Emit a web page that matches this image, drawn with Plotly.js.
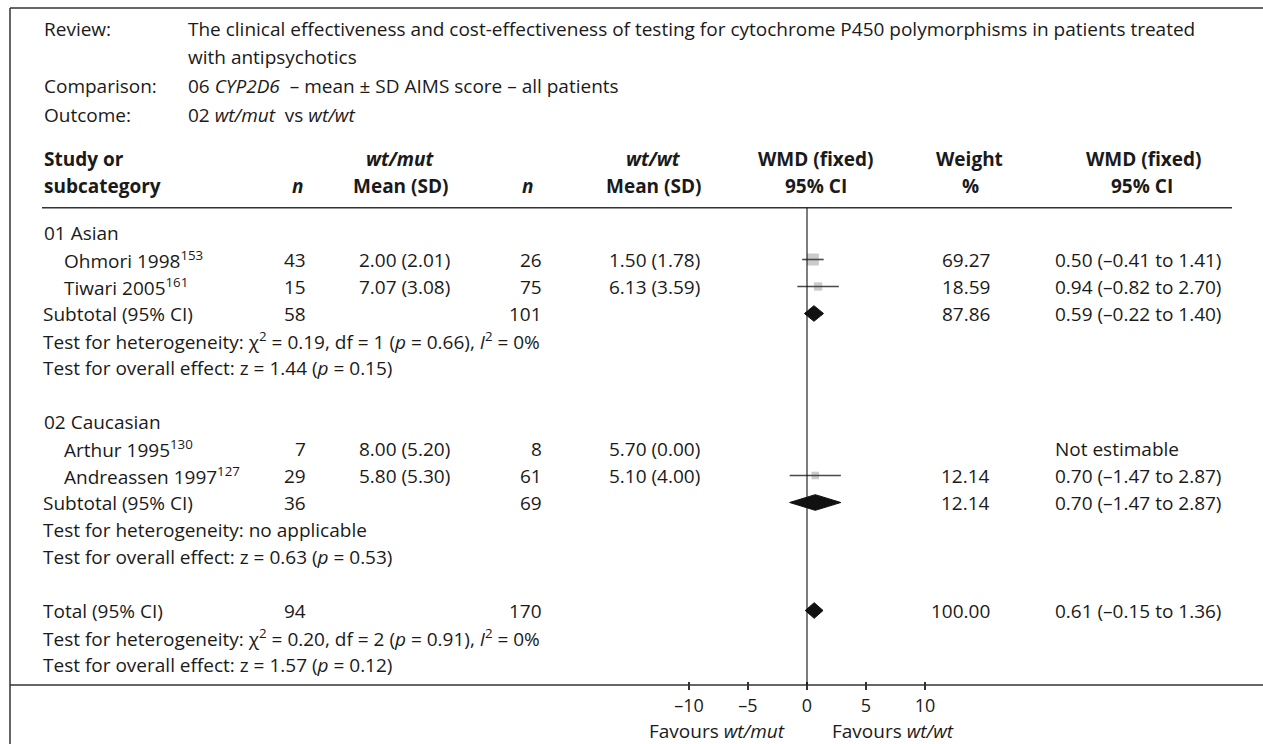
<!DOCTYPE html>
<html>
<head>
<meta charset="utf-8">
<script src="https://cdn.plot.ly/plotly-3.0.1.min.js"></script>
<style>html,body{margin:0;padding:0;background:#fff;}#chart{width:1263px;height:744px;}</style>
</head>
<body>
<div id="chart"></div>
<script>
// ---------------- DATA ----------------
const reviewLines = ['The clinical effectiveness and cost-effectiveness of testing for cytochrome P450 polymorphisms in patients treated', 'with antipsychotics'];
const comparisonText = '06 <i>CYP2D6</i>  – mean ± SD AIMS score – all patients';
const outcomeText = '02 <i>wt/mut</i>  vs <i>wt/wt</i>';

const groups = ['01 Asian', '02 Caucasian'];
const studies = ['Ohmori 1998', 'Tiwari 2005', 'Arthur 1995', 'Andreassen 1997'];
const studyRefs = ['153', '161', '130', '127'];
const studyGroup = [0, 0, 1, 1];
const nMut = [43, 15, 7, 29];
const meanMut = [2.00, 7.07, 8.00, 5.80];
const sdMut = [2.01, 3.08, 5.20, 5.30];
const nWt = [26, 75, 8, 61];
const meanWt = [1.50, 6.13, 5.70, 5.10];
const sdWt = [1.78, 3.59, 0.00, 4.00];
const wmd = [0.50, 0.94, null, 0.70];
const ciLo = [-0.41, -0.82, null, -1.47];
const ciHi = [1.41, 2.70, null, 2.87];
const weight = [69.27, 18.59, null, 12.14];

const subNMut = [58, 36];
const subNWt = [101, 69];
const subWmd = [0.59, 0.70];
const subLo = [-0.22, -1.47];
const subHi = [1.40, 2.87];
const subWeight = [87.86, 12.14];
const subHetChi = [0.19, null];
const subHetDf = [1, null];
const subHetP = [0.66, null];
const subHetI2 = [0, null];
const subZ = [1.44, 0.63];
const subZp = [0.15, 0.53];

const totNMut = 94;
const totNWt = 170;
const totWmd = 0.61;
const totLo = -0.15;
const totHi = 1.36;
const totWeight = 100.00;
const totHetChi = 0.20;
const totHetDf = 2;
const totHetP = 0.91;
const totHetI2 = 0;
const totZ = 1.57;
const totZp = 0.12;

const tickVals = [-10, -5, 0, 5, 10];
const tickText = ['–10', '–5', '0', '5', '10'];
const favLeft = 'Favours <i>wt/mut</i>';
const favRight = 'Favours <i>wt/wt</i>';

// ---------------- LAYOUT HELPERS ----------------
const W = 1263, H = 744;
const px = x => x / W;
const py = y => 1 - y / H;
const FONT = '"Open Sans", Lato, "DejaVu Sans", sans-serif';
const TXT = '#1a1a1a';
const FS = 19;
const ROW0 = 232.5, ROWH = 27;
const yTopPx = 207.7, yBotPx = 681;

const f2 = v => (v < 0 ? '–' : '') + Math.abs(v).toFixed(2);
const ciStr = (e, l, h) => `${f2(e)} (${f2(l)} to ${f2(h)})`;
const hetStr = (chi, df, p, i2) => chi === null ? 'Test for heterogeneity: no applicable'
  : `Test for heterogeneity: χ<sup>2</sup> = ${chi.toFixed(2)}, df = ${df} (<i>p</i> = ${p.toFixed(2)}), <i>I</i><sup>2</sup> = ${i2}%`;
const zStr = (z, p) => `Test for overall effect: z = ${z.toFixed(2)} (<i>p</i> = ${p.toFixed(2)})`;

const annotations = [];
function A(text, xPx, yVal, anchor, opts) {
  opts = opts || {};
  annotations.push({
    text: text, xref: 'paper', x: px(xPx), yref: opts.yref || 'y', y: yVal,
    xanchor: anchor, yanchor: 'middle', showarrow: false,
    font: Object.assign({family: FONT, size: opts.size || FS, color: TXT}, opts.font || {})
  });
}
function AP(text, xPx, yPx, anchor, opts) {
  opts = opts || {};
  opts.yref = 'paper';
  A(text, xPx, py(yPx), anchor, opts);
}
const B = {font: {weight: 'bold'}};
const BI = {font: {weight: 'bold', style: 'italic'}};

// header block
AP('Review:', 42, 28.5, 'left');
AP(reviewLines[0], 186, 28.5, 'left');
AP(reviewLines[1], 186, 57.5, 'left');
AP('Comparison:', 42, 86.5, 'left');
AP(comparisonText, 186, 86.5, 'left');
AP('Outcome:', 42, 115, 'left');
AP(outcomeText, 186, 115, 'left');

// column headers
const h1 = 159.5, h2 = 186;
AP('Study or', 42, h1, 'left', {font: B.font});
AP('subcategory', 42, h2, 'left', {font: B.font});
AP('n', 297, h2, 'center', {font: BI.font});
AP('wt/mut', 400, h1, 'center', {font: BI.font});
AP('Mean (SD)', 400, h2, 'center', {font: B.font});
AP('n', 527, h2, 'center', {font: BI.font});
AP('wt/wt', 653, h1, 'center', {font: BI.font});
AP('Mean (SD)', 653, h2, 'center', {font: B.font});
AP('WMD (fixed)', 816, h1, 'center', {font: B.font});
AP('95% CI', 816, h2, 'center', {font: B.font});
AP('Weight', 969, h1, 'center', {font: B.font});
AP('%', 970, h2, 'center', {font: B.font});
AP('WMD (fixed)', 1144, h1, 'center', {font: B.font});
AP('95% CI', 1142, h2, 'center', {font: B.font});

// ---------------- ROWS ----------------
const sqX = [], sqY = [], sqS = [];
const lnX = [], lnY = [];
const dmX = [], dmY = [];
const DH = 0.29;
function diamond(e, l, h, r) {
  dmX.push(l, e, h, e, l, null);
  dmY.push(r, r - DH, r, r + DH, r, null);
}
let r = 0;
groups.forEach((g, gi) => {
  A(g, 42, r, 'left'); r++;
  studies.forEach((s, i) => {
    if (studyGroup[i] !== gi) return;
    A(`${s}<sup>${studyRefs[i]}</sup>`, 62, r, 'left');
    A(String(nMut[i]), 308, r, 'right');
    A(`${meanMut[i].toFixed(2)} (${sdMut[i].toFixed(2)})`, 357, r, 'left');
    A(String(nWt[i]), 544, r, 'right');
    A(`${meanWt[i].toFixed(2)} (${sdWt[i].toFixed(2)})`, 607, r, 'left');
    if (wmd[i] === null) {
      A('Not estimable', 1053, r, 'left');
    } else {
      A(weight[i].toFixed(2), 992, r, 'right');
      A(ciStr(wmd[i], ciLo[i], ciHi[i]), 1053, r, 'left');
      sqX.push(wmd[i]); sqY.push(r); sqS.push(4.35 + 0.92 * Math.sqrt(weight[i]));
      lnX.push(ciLo[i], ciHi[i], null); lnY.push(r, r, null);
    }
    r++;
  });
  A('Subtotal (95% CI)', 41, r, 'left');
  A(String(subNMut[gi]), 308, r, 'right');
  A(String(subNWt[gi]), 544, r, 'right');
  A(subWeight[gi].toFixed(2), 992, r, 'right');
  A(ciStr(subWmd[gi], subLo[gi], subHi[gi]), 1053, r, 'left');
  diamond(subWmd[gi], subLo[gi], subHi[gi], r);
  r++;
  A(hetStr(subHetChi[gi], subHetDf[gi], subHetP[gi], subHetI2[gi]), 41, r, 'left'); r++;
  A(zStr(subZ[gi], subZp[gi]), 41, r, 'left'); r++;
  r++; // blank
});
A('Total (95% CI)', 41, r, 'left');
A(String(totNMut), 308, r, 'right');
A(String(totNWt), 544, r, 'right');
A(totWeight.toFixed(2), 992, r, 'right');
A(ciStr(totWmd, totLo, totHi), 1053, r, 'left');
diamond(totWmd, totLo, totHi, r);
r++;
A(hetStr(totHetChi, totHetDf, totHetP, totHetI2), 41, r, 'left'); r++;
A(zStr(totZ, totZp), 41, r, 'left'); r++;

// favours labels
annotations.push({text: favLeft, xref: 'x', x: 0, yref: 'paper', y: py(731), xanchor: 'right', yanchor: 'middle', xshift: -20, showarrow: false, font: {family: FONT, size: FS, color: TXT}});
annotations.push({text: favRight, xref: 'x', x: 0, yref: 'paper', y: py(731), xanchor: 'left', yanchor: 'middle', xshift: 23, showarrow: false, font: {family: FONT, size: FS, color: TXT}});

const yMin = -(ROW0 - yTopPx) / ROWH;
const yMax = (yBotPx - ROW0) / ROWH;

const traces = [
  {type: 'scatter', mode: 'markers', x: sqX, y: sqY, hoverinfo: 'skip',
   marker: {symbol: 'square', size: sqS, color: '#b5b5b5', line: {width: 0}}},
  {type: 'scatter', mode: 'lines', x: lnX, y: lnY, hoverinfo: 'skip',
   line: {color: '#4a4a4a', width: 1.6}},
  {type: 'scatter', mode: 'lines', x: dmX, y: dmY, fill: 'toself', fillcolor: '#111', hoverinfo: 'skip',
   line: {color: '#111', width: 1}}
];

const lineStyle = {color: '#333', width: 1.5};
const shapes = [
  // frame
  {type: 'line', xref: 'paper', yref: 'paper', x0: px(10), x1: 1, y0: py(8), y1: py(8), line: lineStyle},
  {type: 'line', xref: 'paper', yref: 'paper', x0: px(10), x1: px(10), y0: py(8), y1: 0, line: lineStyle},
  // header separator
  {type: 'line', xref: 'paper', yref: 'paper', x0: px(42), x1: px(1232), y0: py(207.7), y1: py(207.7), line: {color: '#333', width: 1.6}},
  // bottom axis rule
  {type: 'line', xref: 'paper', yref: 'paper', x0: px(10), x1: 1, y0: py(685), y1: py(685), line: lineStyle},
  // zero line
  {type: 'line', xref: 'x', yref: 'paper', x0: 0, x1: 0, y0: py(685), y1: py(207.7), line: {color: '#111', width: 1.1}}
];

const layout = {
  width: W, height: H,
  margin: {l: 0, r: 0, t: 0, b: 0},
  paper_bgcolor: '#fff', plot_bgcolor: 'rgba(0,0,0,0)',
  showlegend: false,
  xaxis: {domain: [px(689), px(925)], range: [-10, 10], tickvals: tickVals, ticktext: tickText,
          ticks: 'outside', ticklen: 8, tickwidth: 1.3, tickcolor: '#333',
          showgrid: false, zeroline: false, showline: false, fixedrange: true,
          tickfont: {family: FONT, size: 18, color: TXT}},
  yaxis: {domain: [1 - yBotPx / H, 1 - yTopPx / H], range: [yMax, yMin], visible: false, fixedrange: true},
  annotations: annotations,
  shapes: shapes,
  font: {family: FONT, color: TXT}
};

Plotly.newPlot('chart', traces, layout, {staticPlot: true, displayModeBar: false});
</script>
</body>
</html>
